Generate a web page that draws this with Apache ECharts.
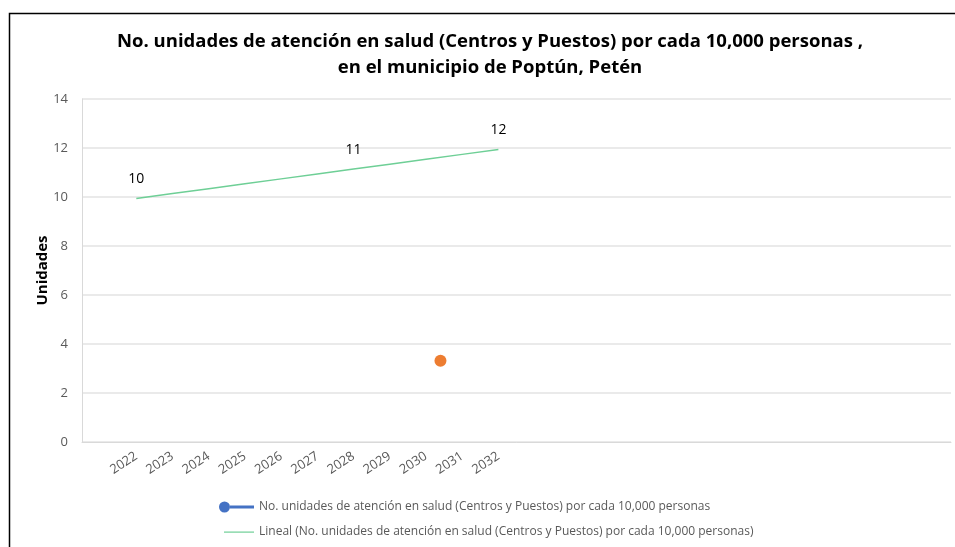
<!DOCTYPE html>
<html>
<head>
<meta charset="utf-8">
<script src="https://cdn.jsdelivr.net/npm/echarts@6/dist/echarts.min.js"></script>
<style>
  html, body { margin: 0; padding: 0; background: #fff; }
  #chart { width: 955px; height: 547px; }
</style>
</head>
<body>
<div id="chart"></div>
<script>
// Year labels shown under the axis
const yearLabels = ['2022', '2023', '2024', '2025', '2026', '2027', '2028', '2029', '2030', '2031', '2032'];
// Linear trend values, one per labelled year
const trendValues = [9.94, 10.14, 10.34, 10.54, 10.74, 10.94, 11.14, 11.34, 11.54, 11.74, 11.94];
// Years whose trend value carries a data label
const labelledYears = ['2022', '2028', '2032'];
// Single observed point: [year position, units]
const observedPoint = [2030.4, 3.32];
// Y-axis ticks
const yTicks = [0, 2, 4, 6, 8, 10, 12, 14];

const titleLines = [
  'No. unidades de atención en salud (Centros y Puestos) por cada 10,000 personas ,',
  'en el municipio de Poptún, Petén'
];
const seriesName = 'No. unidades de atención en salud (Centros y Puestos) por cada 10,000 personas';
const trendName = 'Lineal (' + seriesName + ')';

// Category slots along the axis (labels appear only for yearLabels)
const firstSlot = 2021, slotCount = 24;
const slots = [];
for (let i = 0; i < slotCount; i++) slots.push(String(firstSlot + i));

const trendData = slots.map(s => {
  const k = yearLabels.indexOf(s);
  if (k < 0) return null;
  return { value: trendValues[k], label: { show: labelledYears.includes(s) } };
});

const FONT = "'Open Sans', sans-serif";

const chart = echarts.init(document.getElementById('chart'));
chart.setOption({
  animation: false,
  backgroundColor: '#ffffff',
  graphic: [{
    type: 'rect',
    shape: { x: 9.5, y: 13.5, width: 1000, height: 1000 },
    style: { fill: 'none', stroke: '#000', lineWidth: 1.5 },
    silent: true
  }, {
    type: 'text',
    x: 490,
    y: 29,
    style: {
      text: titleLines.join('\n'),
      align: 'center',
      verticalAlign: 'top',
      lineHeight: 26,
      font: "bold 18.5px 'Open Sans', sans-serif",
      fill: '#000'
    },
    silent: true
  }],
  grid: { left: 82, right: 4, top: 99, bottom: 105, containLabel: false },
  legend: {
    orient: 'vertical',
    left: 214,
    top: 496,
    itemGap: 13,
    itemWidth: 35,
    itemHeight: 11,
    textStyle: { fontFamily: FONT, fontSize: 12, color: '#595959' },
    data: [
      { name: seriesName, icon: 'path://M0,5.5a5.5,5.5 0 1,0 11,0a5.5,5.5 0 1,0 -11,0zM11,4h24v3h-24z', itemStyle: { color: '#4472C4' } },
      { name: trendName, icon: 'path://M0,0M35,11M5,5h30v1.2h-30z', itemStyle: { color: '#6ECF96' } }
    ]
  },
  xAxis: [{
    type: 'category',
    data: slots,
    boundaryGap: true,
    axisLine: { lineStyle: { color: '#D9D9D9' } },
    axisTick: { show: false },
    splitLine: { show: false },
    axisLabel: {
      interval: 0,
      rotate: 33,
      margin: 13,
      fontFamily: FONT,
      fontSize: 13,
      color: '#595959',
      formatter: v => (yearLabels.includes(v) ? v : '')
    }
  }, {
    type: 'value',
    show: false,
    min: firstSlot - 0.5,
    max: firstSlot + slotCount - 0.5
  }],
  yAxis: {
    type: 'value',
    min: yTicks[0],
    max: yTicks[yTicks.length - 1],
    interval: yTicks[1] - yTicks[0],
    name: 'Unidades',
    nameLocation: 'middle',
    nameGap: 32,
    nameMoveOverlap: false,
    nameTextStyle: { fontFamily: FONT, fontSize: 15, fontWeight: 'bold', color: '#000' },
    axisLine: { show: true, lineStyle: { color: '#D9D9D9' } },
    axisTick: { show: false },
    splitLine: { lineStyle: { color: '#E3E3E3', width: 1.5 } },
    axisLabel: { fontFamily: FONT, fontSize: 13, color: '#595959', margin: 14 }
  },
  series: [{
    name: seriesName,
    type: 'line',
    data: [],
    color: '#4472C4',
    symbol: 'circle',
    lineStyle: { width: 3 }
  }, {
    name: trendName,
    type: 'line',
    data: trendData,
    color: '#6ECF96',
    symbol: 'circle',
    symbolSize: 4,
    itemStyle: { color: 'transparent', borderWidth: 0 },
    lineStyle: { width: 1.5, color: '#6ECF96' },
    label: {
      show: false,
      position: 'top',
      distance: 10,
      fontFamily: FONT,
      fontSize: 14,
      color: '#000',
      formatter: p => String(Math.round(p.value))
    }
  }, {
    name: 'punto',
    type: 'scatter',
    xAxisIndex: 1,
    data: [observedPoint],
    symbolSize: 12,
    itemStyle: { color: '#ED7D31', opacity: 1 }
  }]
});
</script>
</body>
</html>
